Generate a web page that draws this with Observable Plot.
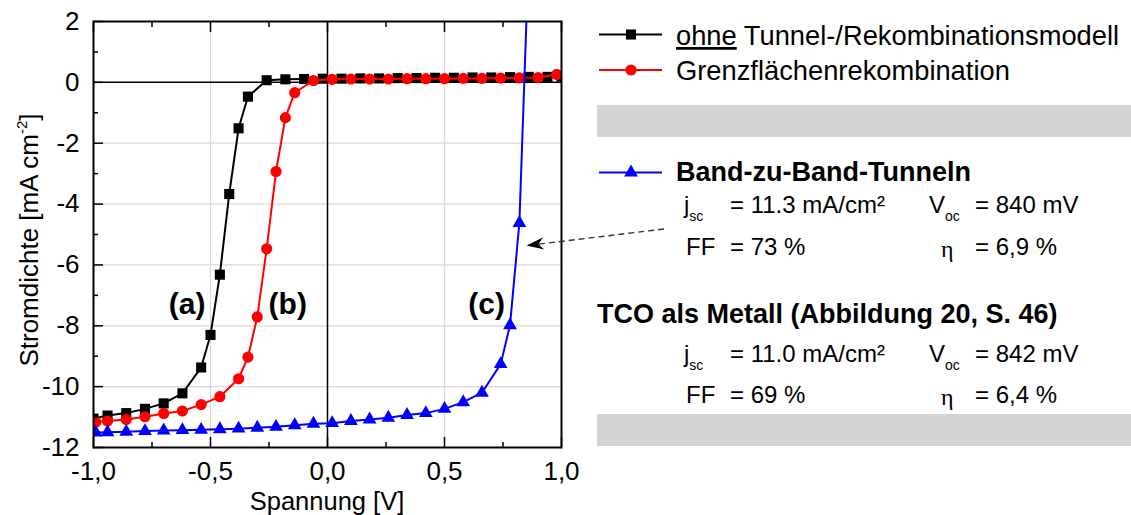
<!DOCTYPE html>
<html>
<head>
<meta charset="utf-8">
<script src="https://cdn.jsdelivr.net/npm/d3@7"></script>
<script src="https://cdn.jsdelivr.net/npm/@observablehq/plot@0.6"></script>
<style>
  html, body { margin: 0; padding: 0; background: #fff; }
  #chart { width: 1131px; height: 515px; }
</style>
</head>
<body>
<div id="chart"></div>
<script>
const FONT = "'Liberation Sans', Arial, Helvetica, sans-serif";

// J–V curves: voltage [V] and current density [mA cm^-2]
// (a) without tunnelling / recombination model
const voltageA = [-1.0, -0.94, -0.86, -0.78, -0.70, -0.62, -0.54, -0.50, -0.46, -0.42, -0.38, -0.34, -0.26, -0.18, -0.10,
                  -0.02, 0.06, 0.14, 0.22, 0.30, 0.38, 0.46, 0.54, 0.62, 0.70, 0.78, 0.86, 0.94, 1.0];
const currentA = [-11.05, -10.95, -10.87, -10.73, -10.55, -10.22, -9.37, -8.30, -6.32, -3.67, -1.51, -0.47, 0.07, 0.10, 0.11,
                  0.12, 0.12, 0.13, 0.13, 0.14, 0.14, 0.15, 0.15, 0.16, 0.16, 0.17, 0.18, 0.18, 0.19];
// (b) interface recombination
const voltageB = [-0.99, -0.94, -0.86, -0.78, -0.70, -0.62, -0.54, -0.46, -0.38, -0.34, -0.30, -0.26, -0.22, -0.18, -0.14, -0.06,
                  0.02, 0.10, 0.18, 0.26, 0.34, 0.42, 0.50, 0.58, 0.66, 0.74, 0.82, 0.90, 0.98];
const currentB = [-11.16, -11.13, -11.08, -10.99, -10.88, -10.80, -10.59, -10.33, -9.74, -9.03, -7.71, -5.47, -2.93, -1.16, -0.34, 0.06,
                  0.10, 0.11, 0.11, 0.11, 0.12, 0.12, 0.12, 0.13, 0.13, 0.14, 0.15, 0.16, 0.26];
// (c) band-to-band tunnelling
const voltageC = [-0.99, -0.94, -0.86, -0.78, -0.70, -0.62, -0.54, -0.46, -0.38, -0.30, -0.22, -0.14, -0.06,
                  0.02, 0.10, 0.18, 0.26, 0.34, 0.42, 0.50, 0.58, 0.66, 0.74, 0.78, 0.82, 0.86];
const currentC = [-11.51, -11.50, -11.48, -11.46, -11.44, -11.43, -11.42, -11.40, -11.38, -11.35, -11.32, -11.27, -11.22,
                  -11.20, -11.13, -11.08, -11.02, -10.93, -10.87, -10.73, -10.51, -10.20, -9.26, -7.98, -4.62, 4.2];

const seriesNames = ["ohne Tunnel-/Rekombinationsmodell", "Grenzflächenrekombination", "Band-zu-Band-Tunneln"];
const seriesColors = ["#000000", "#ff0000", "#0000ff"];
const seriesSymbols = ["square", "circle", "triangle"];
const seriesRadius = [5.7, 5.6, 5.1];

// curve tags and where they sit (V, J)
const curveTags = ["(a)", "(b)", "(c)"];
const tagVoltage = [-0.60, -0.17, 0.68];
const tagCurrent = [-7.3, -7.3, -7.3];

// axis ticks
const xTicks = [-1, -0.5, 0, 0.5, 1];
const xMinorTicks = [-0.75, -0.25, 0.25, 0.75];
const yTicks = [2, 0, -2, -4, -6, -8, -10, -12];
const yMinorTicks = [1, -1, -3, -5, -7, -9, -11];

// cell parameters
const statTitles = ["Band-zu-Band-Tunneln", "TCO als Metall (Abbildung 20, S. 46)"];
const statJsc = ["11.3", "11.0"];
const statVoc = ["840", "842"];
const statFF = ["73", "69"];
const statEta = ["6,9", "6,4"];

// arrow target on curve (c)
const arrowTarget = {v: 0.853, j: -5.38};

const zip = (vs, js) => vs.map((v, i) => ({v, j: js[i]}));
const curves = [zip(voltageA, currentA), zip(voltageB, currentB), zip(voltageC, currentC)];
const tags = curveTags.map((t, i) => ({t, v: tagVoltage[i], j: tagCurrent[i]}));

const fmtX = d => d.toFixed(1).replace(".", ",");
const fmtY = d => String(d);
const inner = t => Math.abs(t) !== 1 && t !== 0;

const curveMarks = curves.flatMap((data, i) => [
  Plot.line(data, {x: "v", y: "j", stroke: seriesColors[i], strokeWidth: 2, clip: true}),
  Plot.dot(data, {x: "v", y: "j", symbol: seriesSymbols[i], r: seriesRadius[i], fill: seriesColors[i], stroke: null, clip: true})
]);

const chart = Plot.plot({
  width: 1131,
  height: 515,
  marginLeft: 93,
  marginRight: 570,
  marginTop: 21,
  marginBottom: 68,
  style: {fontFamily: FONT, fontSize: "26px", background: "#fff", color: "#000", overflow: "visible"},
  x: {domain: [-1, 1], label: null},
  y: {domain: [-12, 2], label: null},
  marks: [
    Plot.gridX(xTicks.filter(inner), {stroke: "#d9d9d9", strokeOpacity: 1, strokeWidth: 1.2}),
    Plot.gridY(yTicks.filter(t => t !== 0 && t !== 2 && t !== -12), {stroke: "#d9d9d9", strokeOpacity: 1, strokeWidth: 1.2}),
    Plot.ruleX([0], {stroke: "#000", strokeWidth: 1.5}),
    Plot.ruleY([0], {stroke: "#000", strokeWidth: 1.5}),
    ...curveMarks,
    Plot.text(tags, {x: "v", y: "j", text: "t", fontSize: 30, fontWeight: "bold", lineAnchor: "middle"}),
    Plot.frame({stroke: "#000", strokeWidth: 2}),
    // inward tick marks
    Plot.axisX(xTicks, {anchor: "bottom", tickSize: -10, fill: "none", strokeWidth: 1.5, label: null}),
    Plot.axisX(xMinorTicks, {anchor: "bottom", tickSize: -5, fill: "none", strokeWidth: 1.5, label: null}),
    Plot.axisX(xTicks, {anchor: "top", tickSize: -10, fill: "none", strokeWidth: 1.5, label: null}),
    Plot.axisX(xMinorTicks, {anchor: "top", tickSize: -5, fill: "none", strokeWidth: 1.5, label: null}),
    Plot.axisY(yTicks, {anchor: "left", tickSize: -10, fill: "none", strokeWidth: 1.5, label: null}),
    Plot.axisY(yMinorTicks, {anchor: "left", tickSize: -5, fill: "none", strokeWidth: 1.5, label: null}),
    // tick labels
    Plot.axisX(xTicks, {anchor: "bottom", tickSize: 0, tickPadding: 14, tickFormat: fmtX, label: null}),
    Plot.axisY(yTicks, {anchor: "left", tickSize: 0, tickPadding: 14, tickFormat: fmtY, label: null})
  ]
});

document.getElementById("chart").appendChild(chart);

const svg = d3.select(chart);
const xs = chart.scale("x"), ys = chart.scale("y");

// x axis title
svg.append("text")
  .attr("x", (xs.range[0] + xs.range[1]) / 2)
  .attr("y", 509.5)
  .attr("text-anchor", "middle")
  .attr("font-family", FONT)
  .attr("font-size", 25.5)
  .attr("fill", "#000")
  .text("Spannung [V]");

// y axis title with superscript
const yTitle = svg.append("text")
  .attr("transform", "translate(38,240) rotate(-90)")
  .attr("text-anchor", "middle")
  .attr("font-family", FONT)
  .attr("font-size", 26)
  .attr("fill", "#000");
yTitle.append("tspan").text("Stromdichte [mA cm");
yTitle.append("tspan").attr("font-size", 15).attr("dy", -11).text("-2");
yTitle.append("tspan").attr("font-size", 26).attr("dy", 11).text("]");

// legend / parameter panel
const panel = svg.append("g")
  .attr("font-family", FONT)
  .attr("text-anchor", "start")
  .attr("fill", "#000");

const symbolType = {square: d3.symbolSquare, circle: d3.symbolCircle, triangle: d3.symbolTriangle};
function legendKey(i, cy) {
  panel.append("line").attr("x1", 599).attr("x2", 662).attr("y1", cy).attr("y2", cy)
    .attr("stroke", seriesColors[i]).attr("stroke-width", 2);
  panel.append("path")
    .attr("d", d3.symbol(symbolType[seriesSymbols[i]], Math.PI * seriesRadius[i] ** 2)())
    .attr("transform", `translate(631,${cy})`)
    .attr("fill", seriesColors[i]);
}

// entry 1: first word underlined
legendKey(0, 34.5);
{
  const t = panel.append("text").attr("x", 676).attr("y", 45).attr("font-size", 27.3);
  const sp = seriesNames[0].indexOf(" ");
  t.append("tspan").attr("text-decoration", "underline").text(seriesNames[0].slice(0, sp));
  t.append("tspan").text(seriesNames[0].slice(sp));
}
legendKey(1, 70);
panel.append("text").attr("x", 676).attr("y", 80).attr("font-size", 27.3).text(seriesNames[1]);

// grey separator bars
panel.append("rect").attr("x", 597).attr("y", 105).attr("width", 534).attr("height", 32).attr("fill", "#d4d4d4");
panel.append("rect").attr("x", 597).attr("y", 414).attr("width", 534).attr("height", 32).attr("fill", "#d4d4d4");

legendKey(2, 172.5);
panel.append("text").attr("x", 676).attr("y", 180.5).attr("font-size", 27).attr("font-weight", "bold").text(statTitles[0]);
panel.append("text").attr("x", 597).attr("y", 323).attr("font-size", 27).attr("font-weight", "bold").text(statTitles[1]);

function statBlock(g, y1, y2) {
  const fs = 24;
  const j = panel.append("text").attr("x", 684).attr("y", y1).attr("font-size", fs);
  j.append("tspan").text("j");
  j.append("tspan").attr("font-size", 14).attr("dy", 8).text("sc");
  panel.append("text").attr("x", 730).attr("y", y1).attr("font-size", fs).text(`= ${statJsc[g]} mA/cm²`);
  const v = panel.append("text").attr("x", 929).attr("y", y1).attr("font-size", fs);
  v.append("tspan").text("V");
  v.append("tspan").attr("font-size", 14).attr("dy", 8).text("oc");
  panel.append("text").attr("x", 975).attr("y", y1).attr("font-size", fs).text(`= ${statVoc[g]} mV`);
  panel.append("text").attr("x", 686).attr("y", y2).attr("font-size", fs).text("FF");
  panel.append("text").attr("x", 730).attr("y", y2).attr("font-size", fs).text(`= ${statFF[g]} %`);
  panel.append("text").attr("x", 941).attr("y", y2 + 2).attr("font-size", fs)
    .attr("font-family", "'Liberation Serif', 'Times New Roman', serif").text("η");
  panel.append("text").attr("x", 975).attr("y", y2).attr("font-size", fs).text(`= ${statEta[g]} %`);
}
statBlock(0, 213, 255);
statBlock(1, 362, 403);

// dashed pointer from the parameter block to curve (c)
{
  const tip = [xs.apply(arrowTarget.v), ys.apply(arrowTarget.j)];
  const tail = [664, 229];
  const dx = tip[0] - tail[0], dy = tip[1] - tail[1];
  const len = Math.hypot(dx, dy);
  const u = [dx / len, dy / len], n = [-u[1], u[0]];
  const base = [tip[0] - 17 * u[0], tip[1] - 17 * u[1]];
  const notch = [tip[0] - 12 * u[0], tip[1] - 12 * u[1]];
  panel.append("line")
    .attr("x1", tail[0]).attr("y1", tail[1]).attr("x2", notch[0]).attr("y2", notch[1])
    .attr("stroke", "#333").attr("stroke-width", 1.4).attr("stroke-dasharray", "6,4");
  panel.append("path")
    .attr("d", `M${tip}L${base[0] + 6 * n[0]},${base[1] + 6 * n[1]}L${notch}L${base[0] - 6 * n[0]},${base[1] - 6 * n[1]}Z`)
    .attr("fill", "#000");
}
</script>
</body>
</html>
